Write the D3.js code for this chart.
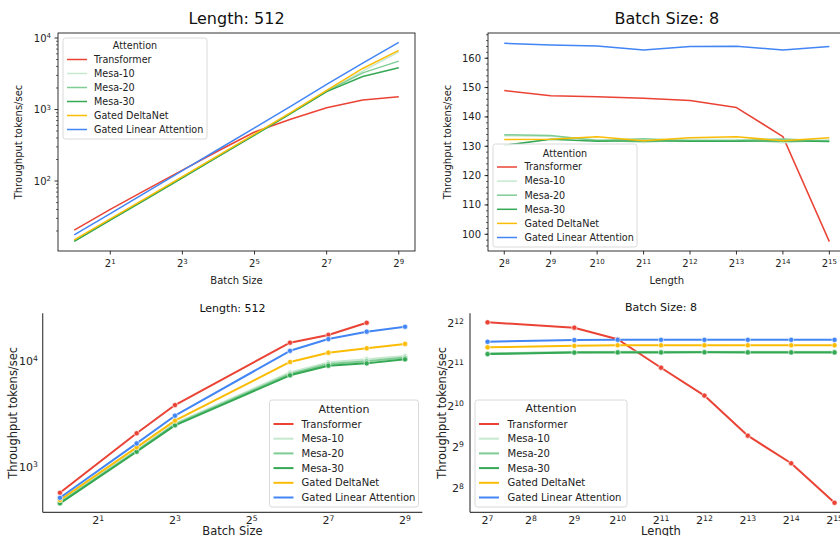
<!DOCTYPE html>
<html>
<head>
<meta charset="utf-8">
<script src="https://cdn.jsdelivr.net/npm/d3@7"></script>
<style>
  body { margin: 0; background: #fff; }
  svg { font-family: "DejaVu Sans", sans-serif; display: block; }
</style>
</head>
<body>
<svg id="chart" width="840" height="536"></svg>
<script>
'use strict'

const seriesNames = ['Transformer', 'Mesa-10', 'Mesa-20', 'Mesa-30', 'Gated DeltaNet', 'Gated Linear Attention']
const seriesColors = ['#ea4335', '#c6e8cf', '#7fcc95', '#34a853', '#fbbc05', '#4285f4']

// top left: Length 512, throughput vs batch size
const tlBatch = [1, 2, 4, 8, 16, 32, 64, 128, 256, 512]
const tlTransformer = [20.6, 40, 76, 142, 265, 485, 730, 1060, 1360, 1510]
const tlMesa10 = [14.6, 29, 57, 113, 225, 445, 890, 1820, 3450, 6400]
const tlMesa20 = [14.4, 28.7, 56.5, 112, 222, 440, 880, 1800, 3250, 4750]
const tlMesa30 = [14.3, 28.5, 56, 111, 221, 437, 875, 1780, 2900, 3850]
const tlDelta = [15.0, 29.5, 58, 115, 228, 452, 905, 1850, 3750, 6700]
const tlGLA = [17.7, 35, 70, 140, 278, 555, 1110, 2250, 4450, 8700]

// top right: Batch size 8, throughput vs length
const trLength = [256, 512, 1024, 2048, 4096, 8192, 16384, 32768]
const trTransformer = [149.0, 147.2, 146.9, 146.4, 145.6, 143.2, 133.3, 97.5]
const trMesa10 = [133.6, 133.4, 132.2, 131.3, 132.4, 132.3, 131.2, 132.2]
const trMesa20 = [133.9, 133.7, 132.0, 132.6, 131.9, 132.0, 132.5, 131.8]
const trMesa30 = [130.3, 132.4, 131.7, 131.9, 131.7, 131.7, 131.9, 131.6]
const trDelta = [132.3, 132.4, 133.2, 131.9, 132.9, 133.2, 131.9, 132.9]
const trGLA = [165.1, 164.5, 164.2, 162.8, 164.0, 164.1, 162.8, 164.0]

// bottom left: Length 512
const blBatch = [1, 4, 8, 64, 128, 256, 512]
const blTransformer = [569, 2070, 3820, 14800, 17500, 22800]
const blMesa10 = [470, 1440, 2560, 7750, 9650, 10350, 11100]
const blMesa20 = [460, 1410, 2510, 7500, 9300, 9900, 10700]
const blMesa30 = [452, 1386, 2460, 7280, 8980, 9440, 10300]
const blDelta = [486, 1525, 2720, 9730, 11900, 13100, 14400]
const blGLA = [510, 1660, 3030, 12400, 16000, 18800, 20900]

// bottom right: Batch size 8
const brLength = [128, 512, 1024, 2048, 4096, 8192, 16384, 32768]
const brTransformer = [4160, 3800, 3130, 1940, 1215, 620, 390, 201]
const brMesa10 = [2470, 2530, 2540, 2540, 2540, 2540, 2540, 2540]
const brMesa20 = [2455, 2515, 2525, 2525, 2530, 2525, 2525, 2525]
const brMesa30 = [2440, 2500, 2510, 2510, 2515, 2510, 2510, 2510]
const brDelta = [2730, 2800, 2830, 2830, 2830, 2830, 2830, 2830]
const brGLA = [3000, 3090, 3100, 3100, 3100, 3100, 3100, 3100]

const svg = d3.select('#chart')

// text like 2^{10}, drawn with a raised tspan
function powLabel(sel, base, exp){
  sel.append('tspan').text(base)
  sel.append('tspan').attr('dy', '-0.45em').attr('font-size', '0.7em').text(exp)
}

function drawPanel(cfg){
  const g = svg.append('g')
  const x = d3.scaleLog().base(2).domain(cfg.xDomain).range([cfg.left, cfg.right])
  const y = cfg.yLinear
    ? d3.scaleLinear().domain(cfg.yDomain).range([cfg.bottom, cfg.top])
    : d3.scaleLog().base(cfg.yBase).domain(cfg.yDomain).range([cfg.bottom, cfg.top])
  const mpl = cfg.kind == 'mpl'
  const ink = mpl ? '#000' : '#333'

  // y ticks
  if(cfg.yMinor){
    g.selectAll('.ymin').data(cfg.yMinor).enter().append('line')
      .attr('x1', cfg.left).attr('x2', cfg.left - 2)
      .attr('y1', d => y(d)).attr('y2', d => y(d))
      .attr('stroke', ink).attr('stroke-width', 0.6)
  }
  cfg.yTicks.forEach(t => {
    const yy = y(t.v)
    if(mpl) g.append('line').attr('x1', cfg.left).attr('x2', cfg.left - 3.5)
      .attr('y1', yy).attr('y2', yy).attr('stroke', ink).attr('stroke-width', 0.8)
    const txt = g.append('text').attr('x', cfg.yLabelX).attr('y', yy).attr('dy', '0.35em')
      .attr('text-anchor', 'end').attr('font-size', cfg.tickFont).attr('fill', '#222')
    if(t.e !== undefined) powLabel(txt, t.b, t.e)
    else txt.text(t.b)
  })

  // x ticks
  cfg.xTicks.forEach(e => {
    const xx = x(Math.pow(2, e))
    if(mpl) g.append('line').attr('x1', xx).attr('x2', xx)
      .attr('y1', cfg.bottom).attr('y2', cfg.bottom + 3.5).attr('stroke', ink).attr('stroke-width', 0.8)
    const txt = g.append('text').attr('x', xx).attr('y', cfg.xLabelY)
      .attr('text-anchor', 'middle').attr('font-size', cfg.tickFont).attr('fill', '#222')
    powLabel(txt, '2', e)
  })

  // series
  const line = d3.line().x(d => x(d[0])).y(d => y(d[1]))
  cfg.values.forEach((vals, i) => {
    const pts = vals.map((v, j) => [cfg.xs[j], v])
    g.append('path').datum(pts).attr('d', line).attr('fill', 'none')
      .attr('stroke', seriesColors[i]).attr('stroke-width', mpl ? 1.5 : 2)
      .attr('stroke-linejoin', 'round')
    if(!mpl){
      g.selectAll('.pt' + i).data(pts).enter().append('circle')
        .attr('cx', d => x(d[0])).attr('cy', d => y(d[1])).attr('r', 2.6)
        .attr('fill', seriesColors[i]).attr('stroke', '#fff').attr('stroke-width', 0.6)
    }
  })

  // spines
  if(mpl){
    g.append('rect').attr('x', cfg.left).attr('y', cfg.top)
      .attr('width', cfg.right - cfg.left).attr('height', cfg.bottom - cfg.top)
      .attr('fill', 'none').attr('stroke', ink).attr('stroke-width', 0.8)
  } else {
    g.append('line').attr('x1', cfg.left).attr('x2', cfg.left).attr('y1', cfg.top).attr('y2', cfg.bottom)
      .attr('stroke', '#444').attr('stroke-width', 1.2)
    g.append('line').attr('x1', cfg.left).attr('x2', cfg.right).attr('y1', cfg.bottom).attr('y2', cfg.bottom)
      .attr('stroke', '#444').attr('stroke-width', 1.2)
  }

  // title and axis labels
  const cx = (cfg.left + cfg.right) / 2
  g.append('text').attr('x', cx).attr('y', cfg.titleY).attr('text-anchor', 'middle')
    .attr('font-size', cfg.titleFont).attr('fill', '#111').text(cfg.title)
  g.append('text').attr('x', cx).attr('y', cfg.xTitleY).attr('text-anchor', 'middle')
    .attr('font-size', cfg.labelFont).attr('fill', '#222').text(cfg.xTitle)
  g.append('text').attr('transform', `translate(${cfg.yTitleX},${(cfg.top + cfg.bottom) / 2}) rotate(-90)`)
    .attr('text-anchor', 'middle').attr('font-size', cfg.labelFont).attr('fill', '#222')
    .text('Throughput tokens/sec')

  // legend
  const L = cfg.legend
  const lg = g.append('g').attr('transform', `translate(${L.x},${L.y})`)
  lg.append('rect').attr('width', L.w).attr('height', L.h).attr('rx', 2.5)
    .attr('fill', 'rgba(255,255,255,0.85)').attr('stroke', '#d0d0d0').attr('stroke-width', 0.8)
  lg.append('text').attr('x', L.w / 2).attr('y', L.titleDy).attr('dy', '0.35em')
    .attr('text-anchor', 'middle').attr('font-size', L.titleFont).attr('fill', '#222').text('Attention')
  seriesNames.forEach((name, i) => {
    const yy = L.firstDy + i * L.step
    lg.append('line').attr('x1', L.hx0).attr('x2', L.hx0 + 20).attr('y1', yy).attr('y2', yy)
      .attr('stroke', seriesColors[i]).attr('stroke-width', mpl ? 1.5 : 2)
    lg.append('text').attr('x', L.tx).attr('y', yy).attr('dy', '0.35em')
      .attr('font-size', L.font).attr('fill', '#222').text(name)
  })
}

// log10 minor ticks inside a domain
function logMinor(lo, hi){
  const out = []
  for(let p = Math.floor(Math.log10(lo)); p <= Math.ceil(Math.log10(hi)); p++){
    for(let k = 2; k <= 9; k++){
      const v = k * Math.pow(10, p)
      if(v >= lo && v <= hi) out.push(v)
    }
  }
  return out
}

drawPanel({
  kind: 'mpl', left: 58, right: 415, top: 33, bottom: 251,
  xDomain: [Math.pow(2, -0.45), Math.pow(2, 9.45)], yDomain: [10.5, 11750], yBase: 10,
  xs: tlBatch, values: [tlTransformer, tlMesa10, tlMesa20, tlMesa30, tlDelta, tlGLA],
  xTicks: [1, 3, 5, 7, 9],
  yTicks: [{b: '10', e: 2, v: 100}, {b: '10', e: 3, v: 1000}, {b: '10', e: 4, v: 10000}],
  yMinor: logMinor(10.5, 11750),
  yLabelX: 51, xLabelY: 267, tickFont: 10, labelFont: 10, titleFont: 16,
  title: 'Length: 512', titleY: 24, xTitle: 'Batch Size', xTitleY: 284, yTitleX: 22,
  legend: {x: 63, y: 38, w: 144, h: 101, titleDy: 7.5, firstDy: 21.5, step: 14,
           hx0: 4, tx: 31, font: 9.6, titleFont: 9.6}
})

drawPanel({
  kind: 'mpl', left: 488, right: 845.6, top: 33, bottom: 251,
  xDomain: [Math.pow(2, 7.65), Math.pow(2, 15.35)], yDomain: [94.3, 168.6], yLinear: true,
  xs: trLength, values: [trTransformer, trMesa10, trMesa20, trMesa30, trDelta, trGLA],
  xTicks: [8, 9, 10, 11, 12, 13, 14, 15],
  yTicks: [100, 110, 120, 130, 140, 150, 160].map(v => ({b: String(v), v: v})),
  yMinor: d3.range(96, 169, 2),
  yLabelX: 481, xLabelY: 267, tickFont: 10, labelFont: 10, titleFont: 16,
  title: 'Batch Size: 8', titleY: 24, xTitle: 'Length', xTitleY: 284, yTitleX: 451,
  legend: {x: 493, y: 144, w: 144, h: 103, titleDy: 9.5, firstDy: 23, step: 14.1,
           hx0: 4, tx: 31.5, font: 9.6, titleFont: 9.6}
})

drawPanel({
  kind: 'sns', left: 42.7, right: 422.3, top: 313.3, bottom: 512.3,
  xDomain: [Math.pow(2, -0.45), Math.pow(2, 9.45)], yDomain: [372, 28000], yBase: 10,
  xs: blBatch, values: [blTransformer, blMesa10, blMesa20, blMesa30, blDelta, blGLA],
  xTicks: [1, 3, 5, 7, 9],
  yTicks: [{b: '10', e: 3, v: 1000}, {b: '10', e: 4, v: 10000}],
  yLabelX: 38, xLabelY: 524, tickFont: 11, labelFont: 11.5, titleFont: 11,
  title: 'Length: 512', titleY: 311.5, xTitle: 'Batch Size', xTitleY: 535, yTitleX: 17,
  legend: {x: 269.5, y: 400, w: 149, h: 107, titleDy: 9.5, firstDy: 24, step: 14.7,
           hx0: 4, tx: 32, font: 10, titleFont: 11}
})

drawPanel({
  kind: 'sns', left: 470, right: 851.9, top: 313.3, bottom: 512.3,
  xDomain: [Math.pow(2, 6.595), Math.pow(2, 15.4)], yDomain: [Math.pow(2, 7.42), Math.pow(2, 12.24)], yBase: 2,
  xs: brLength, values: [brTransformer, brMesa10, brMesa20, brMesa30, brDelta, brGLA],
  xTicks: [7, 8, 9, 10, 11, 12, 13, 14, 15],
  yTicks: [8, 9, 10, 11, 12].map(e => ({b: '2', e: e, v: Math.pow(2, e)})),
  yLabelX: 464, xLabelY: 524, tickFont: 11, labelFont: 11.5, titleFont: 11,
  title: 'Batch Size: 8', titleY: 310.5, xTitle: 'Length', xTitleY: 535, yTitleX: 446,
  legend: {x: 475, y: 400, w: 152, h: 107, titleDy: 8.5, firstDy: 24, step: 14.7,
           hx0: 4, tx: 32.5, font: 10, titleFont: 11}
})
</script>
</body>
</html>
